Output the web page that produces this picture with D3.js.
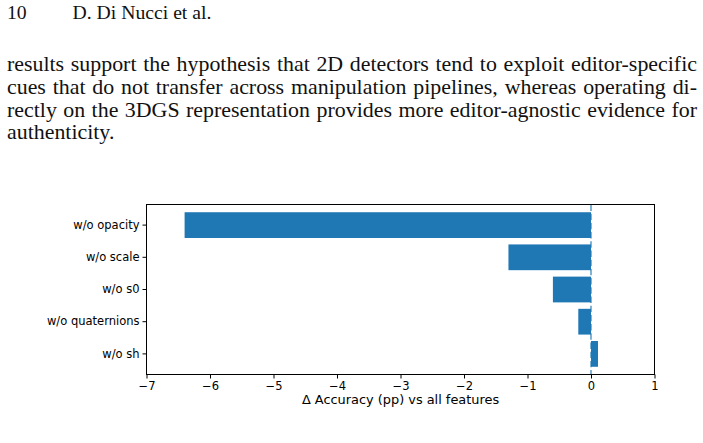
<!DOCTYPE html>
<html>
<head>
<meta charset="utf-8">
<script src="https://cdn.jsdelivr.net/npm/d3@7"></script>
<style>
  html, body { margin: 0; padding: 0; background: #fff; }
</style>
</head>
<body>
<svg id="page" width="703" height="443"></svg>
<script>
// page text
const headerNumber = "10";
const headerAuthors = "D. Di Nucci et al.";
const bodyLines = [
  "results support the hypothesis that 2D detectors tend to exploit editor-specific",
  "cues that do not transfer across manipulation pipelines, whereas operating di-",
  "rectly on the 3DGS representation provides more editor-agnostic evidence for",
  "authenticity."
];

// chart data
const features = ["w/o opacity", "w/o scale", "w/o s0", "w/o quaternions", "w/o sh"];
const deltas = [-6.40, -1.30, -0.60, -0.20, 0.11];
const xTicks = [-7, -6, -5, -4, -3, -2, -1, 0, 1];
const xLabel = "\u0394 Accuracy (pp) vs all features";

const svg = d3.select("#page");
svg.append("rect").attr("width", 703).attr("height", 443).attr("fill", "#fff");

const serif = "'Liberation Serif', 'DejaVu Serif', serif";
const ink = "#111";
const bodySize = 19.9, headSize = 17.9;
const textLeft = 7, textRight = 697, firstBase = 71, lineGap = 22.8;
const space = 0.333 * bodySize;

// measure words first, pick one horizontal stretch for the whole page
// (liberation serif is narrower than the computer modern of the original)
const measure = svg.append("text").attr("font-family", serif).attr("font-size", bodySize);
const wordsByLine = bodyLines.map(l => l.split(" "));
const widthsByLine = wordsByLine.map(ws => ws.map(w => measure.text(w).node().getComputedTextLength()));
measure.remove();
const full = widthsByLine.slice(0, -1);
const k = d3.mean(full, (ws) => (textRight - textLeft - (ws.length - 1) * space) / d3.sum(ws));

function word(g, str, x, y, size) {
  g.append("text")
    .attr("transform", `translate(${x},${y}) scale(${k},1)`)
    .attr("font-family", serif).attr("font-size", size).attr("fill", ink)
    .text(str);
}

// running head
const head = svg.append("g");
word(head, headerNumber, 7, 19, headSize);
word(head, headerAuthors, 72.5, 19, headSize);

// justified paragraph
wordsByLine.forEach((words, li) => {
  const g = svg.append("g");
  const widths = widthsByLine[li].map(w => w * k);
  const last = li === bodyLines.length - 1;
  const gap = last ? space : (textRight - textLeft - d3.sum(widths)) / (words.length - 1);
  let x = textLeft;
  words.forEach((w, i) => { word(g, w, x, firstBase + li * lineGap, bodySize); x += widths[i] + gap; });
});

// chart
const margin = { left: 146.5, right: 654.5, top: 204.5, bottom: 374.5 };
const x = d3.scaleLinear().domain([-7, 1]).range([margin.left, margin.right]);
const y = d3.scaleBand().domain(features).range([margin.top, margin.bottom])
  .paddingInner(0.2).paddingOuter(0.24);

const sans = "'DejaVu Sans', sans-serif";
const blue = "#1f77b4";

svg.append("g").selectAll("rect").data(features).join("rect")
  .attr("x", (d, i) => x(Math.min(0, deltas[i])))
  .attr("width", (d, i) => Math.abs(x(deltas[i]) - x(0)))
  .attr("y", d => y(d))
  .attr("height", y.bandwidth())
  .attr("fill", blue);

svg.append("line")
  .attr("x1", x(0)).attr("x2", x(0))
  .attr("y1", margin.top).attr("y2", margin.bottom)
  .attr("stroke", blue).attr("stroke-opacity", 0.7)
  .attr("stroke-width", 1.6).attr("stroke-dasharray", "6.4,2.8");

// axes
const xAxis = svg.append("g")
  .attr("transform", `translate(0,${margin.bottom})`)
  .call(d3.axisBottom(x).tickValues(xTicks).tickSize(4).tickPadding(3)
    .tickFormat(d => d < 0 ? "\u2212" + Math.abs(d) : d));
const yAxis = svg.append("g")
  .attr("transform", `translate(${margin.left},0)`)
  .call(d3.axisLeft(y).tickSize(4).tickPadding(3));

[xAxis, yAxis].forEach(a => {
  a.select(".domain").remove();
  a.selectAll("line").attr("stroke", "#000").attr("stroke-width", 1);
  a.selectAll("text").attr("font-family", sans).attr("font-size", 11.5).attr("fill", "#000");
});

// frame
svg.append("rect")
  .attr("x", margin.left).attr("y", margin.top)
  .attr("width", margin.right - margin.left).attr("height", margin.bottom - margin.top)
  .attr("fill", "none").attr("stroke", "#000").attr("stroke-width", 1);

svg.append("text")
  .attr("x", (margin.left + margin.right) / 2).attr("y", 404)
  .attr("text-anchor", "middle")
  .attr("font-family", sans).attr("font-size", 12.9).attr("fill", "#000")
  .text(xLabel);
</script>
</body>
</html>
